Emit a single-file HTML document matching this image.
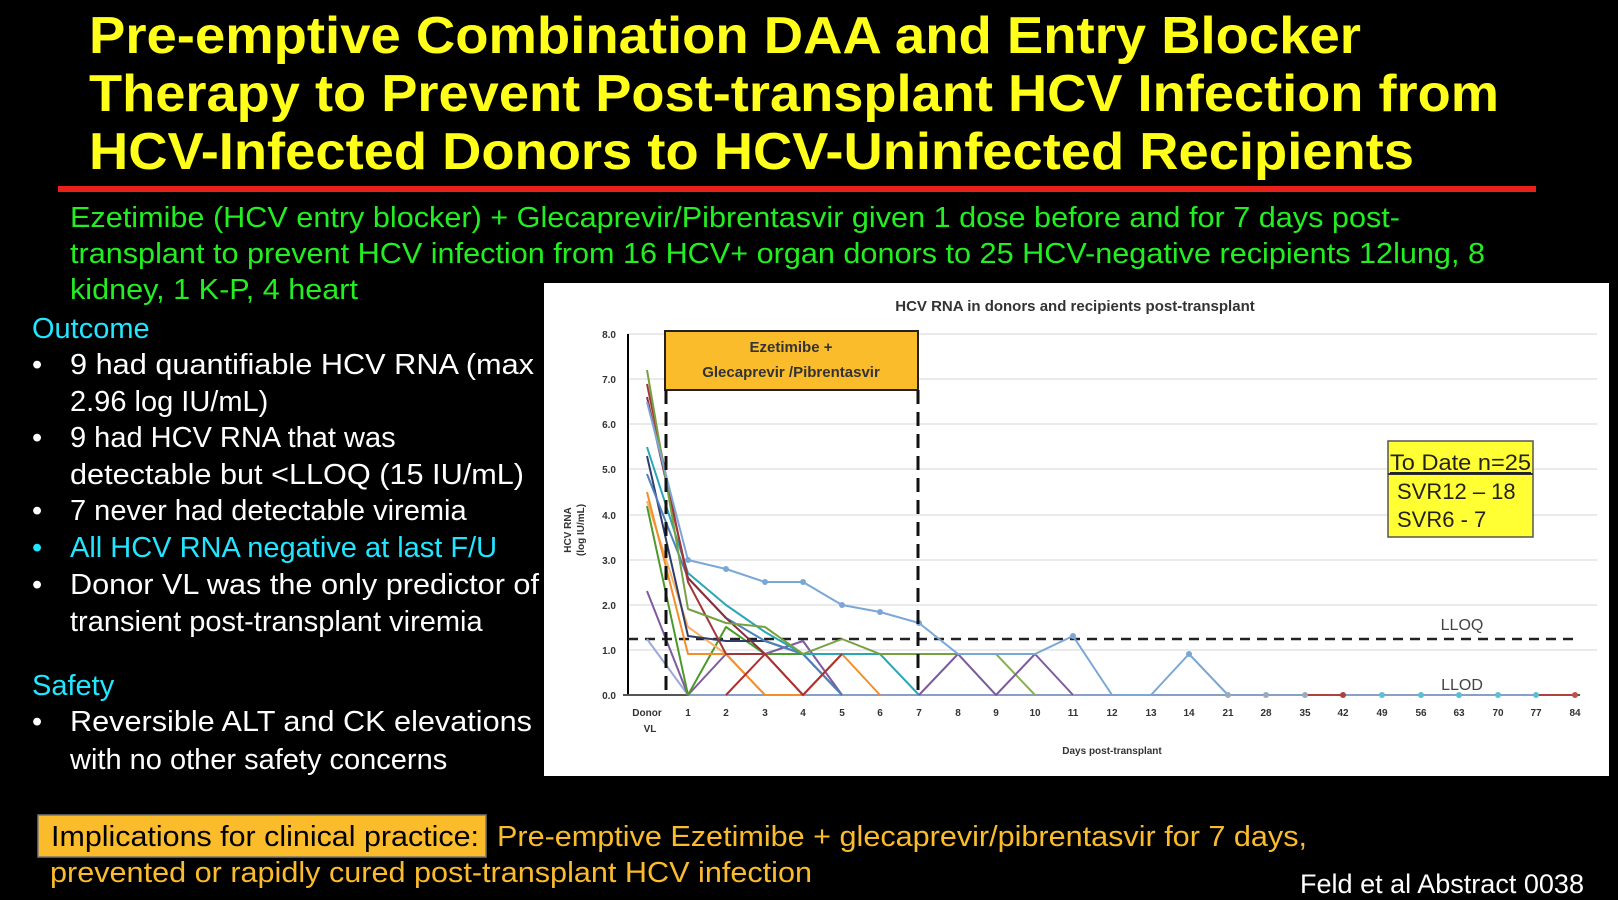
<!DOCTYPE html>
<html><head><meta charset="utf-8"><style>
html,body{margin:0;padding:0;background:#000;}
svg{display:block;}
text{font-family:"Liberation Sans",Arial,sans-serif;}
</style></head><body>
<svg width="1618" height="900" viewBox="0 0 1618 900" xmlns="http://www.w3.org/2000/svg">
<rect width="1618" height="900" fill="#000"/>
<!-- Title -->
<g fill="#ffff1a" font-weight="bold" font-size="52">
<text x="89" y="53" textLength="1272" lengthAdjust="spacingAndGlyphs">Pre-emptive Combination DAA and Entry Blocker</text>
<text x="89" y="111" textLength="1410" lengthAdjust="spacingAndGlyphs">Therapy to Prevent Post-transplant HCV Infection from</text>
<text x="89" y="169" textLength="1325" lengthAdjust="spacingAndGlyphs">HCV-Infected Donors to HCV-Uninfected Recipients</text>
</g>
<rect x="58" y="186" width="1478" height="6" fill="#e8211a"/>
<!-- green intro -->
<g fill="#22ee22" font-size="29">
<text x="70" y="227" textLength="1330" lengthAdjust="spacingAndGlyphs">Ezetimibe (HCV entry blocker) + Glecaprevir/Pibrentasvir given 1 dose before and for 7 days post-</text>
<text x="70" y="263" textLength="1415" lengthAdjust="spacingAndGlyphs">transplant to prevent HCV infection from 16 HCV+ organ donors to 25 HCV-negative recipients 12lung, 8</text>
<text x="70" y="299" textLength="288" lengthAdjust="spacingAndGlyphs">kidney, 1 K-P, 4 heart</text>
</g>
<g font-size="29" fill="#fff">
<text x="32" y="338" fill="#22e5ff">Outcome</text>
<text x="32" y="374">•</text><text x="70" y="374" textLength="464" lengthAdjust="spacingAndGlyphs">9 had quantifiable HCV RNA (max</text>
<text x="70" y="411">2.96 log IU/mL)</text>
<text x="32" y="447">•</text><text x="70" y="447">9 had HCV RNA that was</text>
<text x="70" y="484" textLength="454" lengthAdjust="spacingAndGlyphs">detectable but &lt;LLOQ (15 IU/mL)</text>
<text x="32" y="520">•</text><text x="70" y="520">7 never had detectable viremia</text>
<text x="32" y="557" fill="#22e5ff">•</text><text x="70" y="557" fill="#22e5ff">All HCV RNA negative at last F/U</text>
<text x="32" y="594">•</text><text x="70" y="594" textLength="469" lengthAdjust="spacingAndGlyphs">Donor VL was the only predictor of</text>
<text x="70" y="631">transient post-transplant viremia</text>
<text x="32" y="695" fill="#22e5ff">Safety</text>
<text x="32" y="731">•</text><text x="70" y="731" textLength="462" lengthAdjust="spacingAndGlyphs">Reversible ALT and CK elevations</text>
<text x="70" y="769">with no other safety concerns</text>
</g>
<!-- Chart panel -->
<rect x="544" y="283" width="1065" height="493" fill="#fff"/>
<text x="1075" y="311" text-anchor="middle" font-size="15" font-weight="bold" fill="#333">HCV RNA in donors and recipients post-transplant</text>
<g stroke="#e3e3e3" stroke-width="1.5">
<line x1="628" x2="1597" y1="334" y2="334"/><line x1="628" x2="1597" y1="379" y2="379"/>
<line x1="628" x2="1597" y1="424" y2="424"/><line x1="628" x2="1597" y1="469" y2="469"/>
<line x1="628" x2="1597" y1="515" y2="515"/><line x1="628" x2="1597" y1="560" y2="560"/>
<line x1="628" x2="1597" y1="605" y2="605"/><line x1="628" x2="1597" y1="650" y2="650"/>
</g>
<line x1="628" y1="334" x2="628" y2="695" stroke="#000" stroke-width="2"/>
<line x1="623" y1="695" x2="1580" y2="695" stroke="#555" stroke-width="2"/>
<g font-size="10" font-weight="bold" fill="#333" text-anchor="end">
<text x="616" y="338">8.0</text><text x="616" y="383">7.0</text><text x="616" y="428">6.0</text>
<text x="616" y="473">5.0</text><text x="616" y="519">4.0</text><text x="616" y="564">3.0</text>
<text x="616" y="609">2.0</text><text x="616" y="654">1.0</text><text x="616" y="699">0.0</text>
</g>
<g transform="translate(571,530) rotate(-90)" font-size="10" font-weight="bold" fill="#333" text-anchor="middle">
<text x="0" y="0">HCV RNA</text><text x="0" y="13">(log IU/mL)</text></g>
<g font-size="10" font-weight="bold" fill="#333" text-anchor="middle">
<text x="647" y="716">Donor</text><text x="650" y="732">VL</text>
<text x="688" y="716">1</text><text x="726" y="716">2</text><text x="765" y="716">3</text><text x="803" y="716">4</text>
<text x="842" y="716">5</text><text x="880" y="716">6</text><text x="919" y="716">7</text><text x="958" y="716">8</text>
<text x="996" y="716">9</text><text x="1035" y="716">10</text><text x="1073" y="716">11</text><text x="1112" y="716">12</text>
<text x="1151" y="716">13</text><text x="1189" y="716">14</text><text x="1228" y="716">21</text><text x="1266" y="716">28</text>
<text x="1305" y="716">35</text><text x="1343" y="716">42</text><text x="1382" y="716">49</text><text x="1421" y="716">56</text>
<text x="1459" y="716">63</text><text x="1498" y="716">70</text><text x="1536" y="716">77</text><text x="1575" y="716">84</text>
<text x="1112" y="754">Days post-transplant</text>
</g>
<!-- LLOQ -->
<line x1="628" y1="639" x2="1578" y2="639" stroke="#222" stroke-width="2.5" stroke-dasharray="10,7"/>
<text x="1462" y="630" text-anchor="middle" font-size="16" fill="#444">LLOQ</text>
<text x="1462" y="690" text-anchor="middle" font-size="16" fill="#444">LLOD</text>
<!-- series -->
<g fill="none" stroke-width="2" stroke-linejoin="round">
<polyline stroke="#8a9fc4" points="688,695 1575,695"/>
<polyline stroke="#b04040" points="1305,695 1343,695"/>
<polyline stroke="#b04040" points="1536,695 1575,695"/>
<polyline stroke="#9da9d8" points="647,639 688,695"/>
<polyline stroke="#7e5aa0" points="647,591 688,695 726,654 765,654 803,641 842,695"/>
<polyline stroke="#4c9a2a" points="647,506 688,695 726,627 765,654 803,654"/>
<polyline stroke="#f7b267" points="647,501 688,627 726,654 765,695"/>
<polyline stroke="#f28e2b" points="647,492 688,654 726,654 765,695 803,695 842,654 880,695"/>
<polyline stroke="#2f3d6a" points="647,456 688,636 726,641 765,641 803,654 842,695"/>
<polyline stroke="#4f81bd" points="647,474 688,578 726,618 765,641 803,654 842,695"/>
<polyline stroke="#2aa6b5" points="647,447 688,573 726,605 765,632 803,654 842,654 880,654 919,695"/>
<polyline stroke="#8b2e3c" points="647,397 688,578 726,618 765,654 803,695"/>
<polyline stroke="#a0373a" points="647,384 688,582 726,654 765,654 803,695"/>
<polyline stroke="#b03030" points="726,695 765,654 803,695 842,654"/>
<polyline stroke="#77a040" points="647,370 688,609 726,623 765,627 803,654 842,639 880,654 919,654 958,654 996,695"/>
<polyline stroke="#8ab050" points="996,654 1035,695"/>
<polyline stroke="#7e5aa0" points="919,695 958,654 996,695 1035,654 1073,695"/>
<polyline stroke="#7ba7d7" points="647,402 688,560 726,569 765,582 803,582 842,605 880,612 919,623 958,654 996,654 1035,654 1073,636 1112,695 1151,695 1189,654 1228,695"/>
</g>
<g fill="#7ba7d7">
<circle cx="688" cy="560" r="3"/><circle cx="726" cy="569" r="3"/><circle cx="765" cy="582" r="3"/><circle cx="803" cy="582" r="3"/><circle cx="842" cy="605" r="3"/><circle cx="880" cy="612" r="3"/><circle cx="919" cy="623" r="3"/><circle cx="1073" cy="636" r="3"/><circle cx="1189" cy="654" r="3"/>
<circle cx="1228" cy="695" r="3" fill="#9ab"/><circle cx="1266" cy="695" r="3" fill="#9ab"/><circle cx="1305" cy="695" r="3" fill="#9ab"/><circle cx="1343" cy="695" r="3" fill="#b04040"/><circle cx="1382" cy="695" r="3" fill="#5bc0d0"/><circle cx="1421" cy="695" r="3" fill="#5bc0d0"/><circle cx="1459" cy="695" r="3" fill="#5bc0d0"/><circle cx="1498" cy="695" r="3" fill="#5bc0d0"/><circle cx="1536" cy="695" r="3" fill="#5bc0d0"/><circle cx="1575" cy="695" r="3" fill="#c05050"/>
</g>
<!-- drug box -->
<rect x="665" y="331" width="253" height="59" fill="#fbbc2c" stroke="#222" stroke-width="2"/>
<text x="791" y="352" text-anchor="middle" font-size="15" font-weight="bold" fill="#333">Ezetimibe +</text>
<text x="791" y="377" text-anchor="middle" font-size="15" font-weight="bold" fill="#333">Glecaprevir /Pibrentasvir</text>
<g stroke="#111" stroke-width="3" stroke-dasharray="14,8">
<line x1="666" y1="390" x2="666" y2="695"/><line x1="918" y1="390" x2="918" y2="695"/></g>
<!-- To date box -->
<rect x="1388" y="441" width="145" height="96" fill="#ffff33" stroke="#555" stroke-width="1.5"/>
<line x1="1388" y1="474" x2="1533" y2="474" stroke="#333" stroke-width="2"/>
<g font-size="22" fill="#222">
<text x="1390" y="470" textLength="141" lengthAdjust="spacingAndGlyphs" text-decoration="underline">To Date n=25</text>
<text x="1397" y="499">SVR12 – 18</text>
<text x="1397" y="527">SVR6 - 7</text>
</g>
<!-- bottom -->
<rect x="38" y="815" width="448" height="42" fill="#fbbc2c" stroke="#777" stroke-width="1.5"/>
<text x="51" y="846" font-size="29" fill="#000" textLength="428" lengthAdjust="spacingAndGlyphs">Implications for clinical practice:</text>
<g fill="#fbbc2c" font-size="29">
<text x="497" y="846" textLength="810" lengthAdjust="spacingAndGlyphs">Pre-emptive Ezetimibe + glecaprevir/pibrentasvir for 7 days,</text>
<text x="50" y="882" textLength="762" lengthAdjust="spacingAndGlyphs">prevented or rapidly cured post-transplant HCV infection</text>
</g>
<text x="1300" y="893" font-size="27" fill="#fff" textLength="284" lengthAdjust="spacingAndGlyphs">Feld et al Abstract 0038</text>
</svg>
</body></html>
